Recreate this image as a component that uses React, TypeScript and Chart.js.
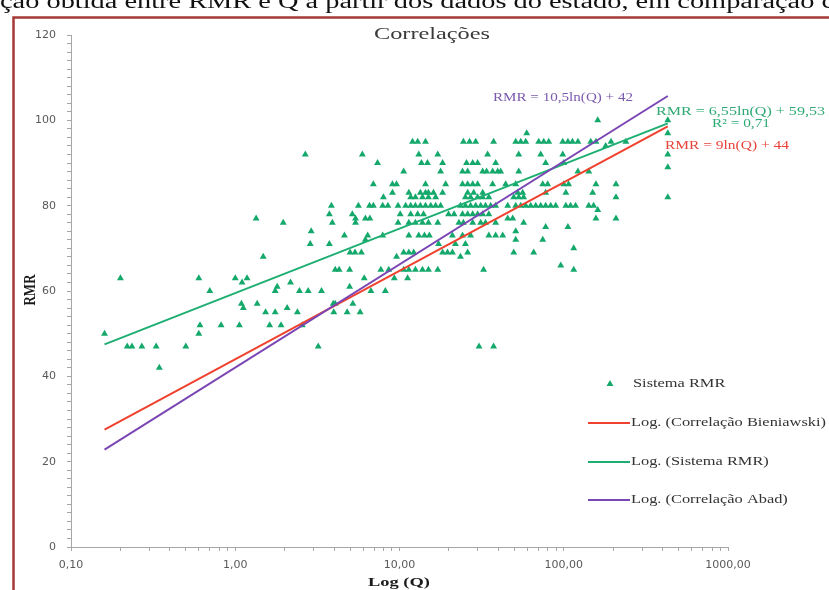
import React, { useEffect, useRef } from "react";
import { Chart, registerables } from "chart.js";

Chart.register(...registerables);

// ---------- data ----------
const xTickValues = [0.1, 1, 10, 100, 1000];
const xTickLabels = ["0,10", "1,00", "10,00", "100,00", "1000,00"];
const yTickLabels = [0, 20, 40, 60, 80, 100, 120];

// Sistema RMR observations: [Q, RMR]
const sistemaRMR: [number, number][] = [
  [0.16, 50], [0.2, 63], [0.22, 47], [0.235, 47], [0.27, 47], [0.33, 47], [0.345, 42], [0.5, 47],
  [0.6, 63], [0.7, 60], [0.6, 50], [0.61, 52], [0.82, 52], [1.06, 52], [1.0, 63], [1.1, 62],
  [1.18, 63], [1.09, 57], [1.12, 56], [1.36, 57],
  [2.67, 92], [5.94, 92], [7.35, 90], [6.93, 85], [9.06, 85], [9.59, 85], [9.06, 83], [7.98, 82],
  [3.85, 80], [5.62, 80], [6.57, 80], [6.93, 80], [7.9, 80], [8.5, 80], [9.8, 80], [1.34, 77],
  [1.96, 76], [3.74, 78], [3.9, 76], [5.16, 78], [5.4, 77], [5.4, 76], [6.2, 77], [6.6, 77],
  [9.8, 76], [2.9, 74], [2.86, 71], [3.74, 71], [4.62, 73], [6.4, 73], [6.2, 72], [7.9, 73],
  [5.0, 69], [5.36, 69], [5.86, 69], [1.48, 68], [9.6, 68], [4.06, 65], [4.29, 65], [4.97, 65],
  [6.1, 63], [7.7, 65], [8.6, 65], [9.3, 63], [2.17, 62], [1.8, 61], [1.75, 60], [2.46, 60],
  [2.78, 60], [3.35, 60], [4.97, 61], [6.7, 60], [8.2, 60], [3.95, 57], [4.06, 57], [5.2, 57],
  [1.53, 55], [1.75, 55], [2.07, 56], [2.39, 55], [3.98, 55], [4.8, 55], [5.76, 55], [1.62, 52],
  [1.9, 52], [2.56, 52], [3.2, 47],
  [12.0, 95], [12.9, 95], [14.4, 95], [24.5, 95], [26.7, 95], [29.1, 95], [37.4, 95],
  [13.1, 92], [17.1, 92], [34.4, 92],
  [13.6, 90], [14.8, 90], [18.3, 90], [25.6, 90], [27.9, 90], [29.9, 90], [38.5, 90],
  [10.6, 88], [17.8, 88], [24.2, 88], [26.0, 88], [32.1, 88], [33.9, 88], [36.9, 88], [39.6, 88],
  [14.4, 85], [19.1, 85], [24.2, 85], [26.0, 85], [27.9, 85], [29.9, 85], [36.9, 85],
  [11.4, 83], [13.4, 83], [14.4, 83], [15.0, 83], [16.1, 83], [18.3, 83], [26.0, 83], [28.3, 83], [32.1, 83],
  [11.7, 82], [12.5, 82], [13.8, 82], [15.0, 82], [16.6, 82], [25.2, 82], [27.1, 82], [29.9, 82], [32.1, 82], [35, 82],
  [10.9, 80], [11.7, 80], [12.5, 80], [13.4, 80], [14.4, 80], [15.5, 80], [16.6, 80], [17.8, 80],
  [23.5, 80], [25.2, 80], [27.1, 80], [29.1, 80], [31.2, 80], [33.4, 80], [35.9, 80], [38.5, 80],
  [10.1, 78], [11.7, 78], [12.9, 78], [14.0, 78], [19.9, 78], [21.5, 78], [24.2, 78], [26, 78],
  [27.9, 78], [29.9, 78], [32.1, 78], [35, 78],
  [11.4, 76], [12.5, 76], [13.8, 76], [15, 76], [17.1, 76], [23.0, 76], [24.5, 76], [27.9, 76],
  [31.2, 76], [33.4, 76], [38.5, 76],
  [11.4, 73], [13.1, 73], [14.2, 73], [15.2, 73], [21, 73], [24.2, 73], [27.1, 73], [35, 73], [38.5, 73], [42.5, 73],
  [17.3, 71], [21.9, 71], [25.2, 71],
  [10.6, 69], [11.4, 69], [12.2, 69], [18.3, 69], [19.6, 69], [21, 69], [26, 69],
  [23.5, 68],
  [10.6, 65], [11.4, 65], [12.5, 65], [13.8, 65], [15, 65], [17.1, 65], [32.5, 65],
  [11.2, 63], [30.5, 47], [37.4, 47],
  [161, 100], [59.5, 97],
  [51, 95], [54.7, 95], [58.7, 95], [70.4, 95], [75.5, 95], [81, 95], [98.6, 95], [106, 95],
  [113, 95], [122, 95], [146, 95], [157, 95],
  [53.2, 92], [72.4, 92], [98.6, 92],
  [77.6, 90], [100, 90],
  [41.3, 88], [53.2, 88], [122, 88], [142, 88],
  [44.3, 85], [51, 85], [74.5, 85], [79.8, 85], [100, 85], [107, 85], [157, 85],
  [52.5, 83], [56.2, 83], [77.6, 83], [103, 83], [150, 83],
  [49.6, 82], [53.2, 82], [57, 82],
  [45.6, 80], [51, 80], [54.7, 80], [58.7, 80], [62.9, 80], [67.5, 80], [72.4, 80], [77.6, 80],
  [83.3, 80], [89.4, 80], [103, 80], [110, 80], [118, 80], [142, 80], [152, 80],
  [161, 79], [45.6, 77], [48.9, 77], [157, 77],
  [57, 76], [77.6, 75], [106, 75], [51, 74], [51, 72], [74.5, 72], [115, 70], [49.6, 69],
  [65.6, 69], [95.9, 66], [115, 65],
  [430, 100], [430, 97], [430, 92], [430, 89], [430, 82], [208, 85], [208, 82], [208, 77],
  [194, 95], [239, 95], [180, 94],
];

// trend lines (logarithmic -> straight on log axis), ends at min / max Q
const trendQ = [0.16, 430];
const bieniawskiRMR = [27.5, 98.6];
const sistemaTrendRMR = [47.5, 99.3];
const abadRMR = [22.8, 105.7];

const legendLabels = [
  "Sistema RMR",
  "Log. (Correlação Bieniawski)",
  "Log. (Sistema RMR)",
  "Log. (Correlação Abad)",
];
const equationLabels = ["RMR = 10,5ln(Q) + 42", "RMR = 6,55ln(Q) + 59,53", "R² = 0,71", "RMR = 9ln(Q) + 44"];
const captionText = "ção obtida entre RMR e Q a partir dos dados do estado, em comparação c";

// ---------- styles ----------
const GREEN_PT = "#14A86B";
const RED = "#F0412E";
const GREEN = "#1EAE72";
const PURPLE = "#7A46B4";
const SERIF = "'Liberation Serif', 'Times New Roman', serif";

function stretchText(
  ctx: CanvasRenderingContext2D,
  text: string,
  x: number,
  y: number,
  font: string,
  color: string,
  width: number | null,
  align: "left" | "center",
  factor = 1
) {
  ctx.save();
  ctx.font = font;
  ctx.fillStyle = color;
  ctx.textBaseline = "middle";
  ctx.textAlign = "left";
  const w = ctx.measureText(text).width;
  const s = width ? width / w : factor;
  const tw = w * s;
  const left = align === "center" ? x - tw / 2 : x;
  ctx.translate(left, y);
  ctx.scale(s, 1);
  ctx.fillText(text, 0, 0);
  ctx.restore();
  return s;
}

const decorPlugin = {
  id: "decor",
  beforeDraw(chart: any) {
    const ctx: CanvasRenderingContext2D = chart.ctx;
    ctx.save();
    ctx.fillStyle = "#ffffff";
    ctx.fillRect(0, 0, chart.width, chart.height);
    // caption (cut at top)
    ctx.font = `20px ${SERIF}`;
    ctx.fillStyle = "#111111";
    ctx.textBaseline = "alphabetic";
    const w = ctx.measureText(captionText).width;
    ctx.translate(0, 8);
    ctx.scale(834 / w, 1);
    ctx.fillText(captionText, 0, 0);
    ctx.restore();
    // red frame
    ctx.save();
    ctx.strokeStyle = "#A63A38";
    ctx.lineWidth = 2.5;
    ctx.strokeRect(13.5, 17.5, 1000, 1000);
    ctx.restore();
  },
  afterDraw(chart: any) {
    const ctx: CanvasRenderingContext2D = chart.ctx;
    // title
    stretchText(ctx, "Correlações", 432, 35, `16px ${SERIF}`, "#3a3a3a", 116, "center");
    // axis titles
    stretchText(ctx, "Log (Q)", 399, 583, `bold 13px ${SERIF}`, "#1a1a1a", 62, "center");
    ctx.save();
    ctx.font = `bold 13px ${SERIF}`;
    ctx.fillStyle = "#1a1a1a";
    ctx.textAlign = "center";
    ctx.textBaseline = "middle";
    ctx.translate(31, 290);
    ctx.scale(1.3, 1);
    ctx.rotate(-Math.PI / 2);
    ctx.fillText("RMR", 0, 0);
    ctx.restore();
    // equations
    stretchText(ctx, equationLabels[0], 493, 98, `12px ${SERIF}`, "#7B5AAE", 140, "left");
    stretchText(ctx, equationLabels[1], 656, 112, `12px ${SERIF}`, "#2FAA74", 169, "left");
    stretchText(ctx, equationLabels[2], 712, 124, `12px ${SERIF}`, "#2FAA74", 58, "left");
    stretchText(ctx, equationLabels[3], 665, 146, `12px ${SERIF}`, "#E8443A", 124, "left");
    // legend
    ctx.save();
    ctx.font = `12px ${SERIF}`;
    const s = 195 / ctx.measureText(legendLabels[1]).width;
    ctx.restore();
    const rows = [384, 423, 462, 500];
    const colors = [GREEN_PT, RED, GREEN, PURPLE];
    // marker
    ctx.save();
    ctx.fillStyle = GREEN_PT;
    const r = 4;
    const mx = 610, my = rows[0];
    ctx.beginPath();
    ctx.moveTo(mx, my - r);
    ctx.lineTo(mx + r * Math.sin((2 * Math.PI) / 3), my - r * Math.cos((2 * Math.PI) / 3));
    ctx.lineTo(mx + r * Math.sin((4 * Math.PI) / 3), my - r * Math.cos((4 * Math.PI) / 3));
    ctx.closePath();
    ctx.fill();
    ctx.restore();
    stretchText(ctx, legendLabels[0], 633, rows[0], `12px ${SERIF}`, "#333333", null, "left", s);
    for (let i = 1; i < 4; i++) {
      ctx.save();
      ctx.strokeStyle = colors[i];
      ctx.lineWidth = 2;
      ctx.beginPath();
      ctx.moveTo(588, rows[i]);
      ctx.lineTo(630, rows[i]);
      ctx.stroke();
      ctx.restore();
      stretchText(ctx, legendLabels[i], 631, rows[i], `12px ${SERIF}`, "#333333", null, "left", s);
    }
  },
};

function buildXTicks(scale: any) {
  const ticks: { value: number }[] = [];
  for (let d = 0; d < xTickValues.length - 1; d++) {
    for (let k = 1; k <= 9; k++) ticks.push({ value: xTickValues[d] * k });
  }
  ticks.push({ value: xTickValues[xTickValues.length - 1] });
  scale.ticks = ticks;
}

function xLabel(value: number) {
  const i = xTickValues.findIndex((v) => Math.abs(v - value) / v < 1e-6);
  return i >= 0 ? xTickLabels[i] : "";
}

export default function App() {
  const ref = useRef<HTMLCanvasElement | null>(null);

  useEffect(() => {
    if (!ref.current) return;
    const line = (data: number[], color: string) => ({
      type: "line" as const,
      data: trendQ.map((q, i) => ({ x: q, y: data[i] })),
      borderColor: color,
      backgroundColor: color,
      borderWidth: 2,
      pointRadius: 0,
      showLine: true,
      fill: false,
    });
    const chart = new Chart(ref.current, {
      type: "scatter",
      data: {
        datasets: [
          { label: legendLabels[3], ...line(abadRMR, PURPLE) },
          { label: legendLabels[1], ...line(bieniawskiRMR, RED) },
          { label: legendLabels[2], ...line(sistemaTrendRMR, GREEN) },
          {
            label: legendLabels[0],
            data: sistemaRMR.map(([q, v]) => ({ x: q, y: v })),
            pointStyle: "triangle",
            pointRadius: 4,
            pointHoverRadius: 4,
            backgroundColor: GREEN_PT,
            borderColor: GREEN_PT,
            borderWidth: 0,
          } as any,
        ],
      },
      options: {
        responsive: false,
        animation: false,
        devicePixelRatio: 1,
        layout: { padding: { left: 16, top: 35, right: 101, bottom: 0 } },
        plugins: { legend: { display: false }, tooltip: { enabled: false }, title: { display: false } },
        scales: {
          x: {
            type: "logarithmic",
            min: 0.1,
            max: 1000,
            afterBuildTicks: buildXTicks,
            afterFit: (s: any) => {
              s.height = 43;
            },
            border: { display: true, color: "#A6A6A6", width: 1 },
            grid: { display: true, drawOnChartArea: false, drawTicks: true, tickLength: 4, color: "#A6A6A6" },
            ticks: {
              autoSkip: false,
              maxRotation: 0,
              minRotation: 0,
              padding: 8,
              color: "#595959",
              font: { family: "'DejaVu Sans', sans-serif", size: 11 },
              callback: (v: any) => xLabel(Number(v)),
            },
          },
          y: {
            type: "linear",
            min: 0,
            max: 120,
            afterFit: (s: any) => {
              s.width = 55;
            },
            border: { display: true, color: "#A6A6A6", width: 1 },
            grid: { display: true, drawOnChartArea: false, drawTicks: true, tickLength: 4, color: "#A6A6A6" },
            ticks: {
              stepSize: 2,
              autoSkip: false,
              padding: 11,
              color: "#595959",
              font: { family: "'DejaVu Sans', sans-serif", size: 11 },
              callback: (v: any) => (yTickLabels.includes(Number(v)) ? String(v) : ""),
            },
          },
        },
      },
      plugins: [decorPlugin],
    });
    return () => chart.destroy();
  }, []);

  return (
    <div style={{ position: "absolute", left: 0, top: 0, width: 829, height: 590, overflow: "hidden" }}>
      <canvas ref={ref} width={829} height={590} style={{ display: "block", width: 829, height: 590 }} />
    </div>
  );
}
